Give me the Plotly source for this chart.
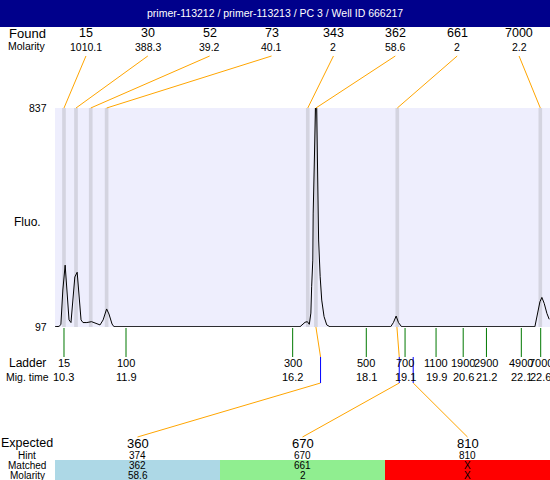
import plotly.graph_objects as go

# ---------------- data ----------------
mig_time = [10.07, 10.17, 10.22, 10.27, 10.33, 10.38, 10.43, 10.48, 10.53, 10.58, 10.64, 10.69,
            10.74, 10.79, 10.89, 11.01, 11.10, 11.23, 11.31, 11.40, 11.46, 11.54, 11.59,
            13.35, 16.39, 16.52, 16.58, 16.63, 16.67, 16.69, 16.72, 16.73, 16.76, 16.78, 16.80,
            16.82, 16.85, 16.87, 16.91, 16.95, 17.01, 17.08, 17.16,
            18.73, 18.80, 18.87, 18.93, 19.01,
            22.45, 22.52, 22.58, 22.63, 22.69, 22.76, 22.82]
fluo = [98, 99, 105, 222, 306, 222, 121, 112, 188, 266, 282, 205,
        121, 112, 112, 115, 111, 104, 121, 158, 141, 107, 98,
        98, 98, 113, 115, 106, 144, 233, 323, 482, 729, 834, 900,
        834, 584, 391, 267, 188, 132, 104, 98,
        98, 112, 134, 112, 98,
        98, 143, 182, 197, 177, 143, 123]

found_size = ["15", "30", "52", "73", "343", "362", "661", "7000"]
found_molarity = ["1010.1", "388.3", "39.2", "40.1", "2", "58.6", "2", "2.2"]
found_time = [10.30, 10.61, 10.99, 11.40, 16.59, 16.80, 18.90, 22.59]

ladder_size = ["15", "100", "300", "500", "700", "1100", "1900", "2900", "4900", "7000"]
ladder_time = [10.3, 11.9, 16.2, 18.1, 19.1, 19.9, 20.6, 21.2, 22.1, 22.6]

expected_size = ["360", "670", "810"]
hint_size = ["374", "670", "810"]
hint_time = [16.92, 18.95, 19.31]
matched_size = ["362", "661", "X"]
matched_molarity = ["58.6", "2", "X"]
matched_time = [16.80, 18.89, None]
match_colors = ["#ADD8E6", "#90EE90", "#FF0000"]

title_text = "primer-113212 / primer-113213 / PC 3 / Well ID 666217"
y_min, y_max = 97, 837
t_min, t_max = 10.068, 22.84

# ---------------- layout helpers ----------------
W, H = 550, 480
LEFT = 55
FONT = "Liberation Sans, Arial, sans-serif"
ORANGE = "#FFA500"


def py(p):
    return 1 - p / H


fig = go.Figure()

# electropherogram
fig.add_trace(go.Scatter(x=mig_time, y=fluo, mode="lines",
                         line=dict(color="black", width=1), xaxis="x", yaxis="y",
                         hoverinfo="skip", showlegend=False))

shapes = []
# plot background
shapes.append(dict(type="rect", xref="x domain", yref="y domain", x0=0, x1=1, y0=0, y1=1,
                   fillcolor="#EEEEFD", line=dict(width=0), layer="below"))
# found-peak bands
for t in found_time:
    shapes.append(dict(type="rect", xref="x", yref="y domain", x0=t - 0.047, x1=t + 0.047,
                       y0=0, y1=1, fillcolor="#D4D4E0", line=dict(width=0), layer="below"))
# title bar
shapes.append(dict(type="rect", xref="paper", yref="paper", x0=0, x1=1, y0=py(27), y1=1,
                   fillcolor="#00008B", line=dict(width=0), layer="below"))
# match cells
for i, c in enumerate(match_colors):
    shapes.append(dict(type="rect", xref="x domain", yref="paper", x0=i / 3, x1=(i + 1) / 3,
                       y0=0, y1=py(460), fillcolor=c, line=dict(width=0), layer="below"))

# connectors: found labels -> bands
n_found = len(found_time)
cx, cy = [], []
for i, t in enumerate(found_time):
    lab_t = t_min + (i + 0.5) / n_found * (t_max - t_min)
    cx += [lab_t, t, None]
    cy += [56, 108, None]
# connectors: matched peaks -> hints -> expected
n_exp = len(expected_size)
bx, by = [], []
for i, ht in enumerate(hint_time):
    lab_t = t_min + (i + 0.5) / n_exp * (t_max - t_min)
    if matched_time[i] is not None:
        cx += [matched_time[i], ht, None]
        cy += [327, 357, None]
    cx += [ht, lab_t, None]
    cy += [383, 437, None]
    bx += [ht, ht, None]
    by += [357, 383, None]
fig.add_trace(go.Scatter(x=cx, y=cy, mode="lines", line=dict(color=ORANGE, width=1),
                         xaxis="x2", yaxis="y2", hoverinfo="skip", showlegend=False))
fig.add_trace(go.Scatter(x=bx, y=by, mode="lines", line=dict(color="#0000FF", width=1),
                         xaxis="x2", yaxis="y2", hoverinfo="skip", showlegend=False))
# ladder ticks
gx, gy = [], []
for t in ladder_time:
    gx += [t, t, None]
    gy += [328, 357, None]
fig.add_trace(go.Scatter(x=gx, y=gy, mode="lines", line=dict(color="#007800", width=1),
                         xaxis="x2", yaxis="y2", hoverinfo="skip", showlegend=False))

ann = []


def text(x, y, s, size, xref="paper", yref="paper", color="black", xanchor="center"):
    ann.append(dict(x=x, y=y, xref=xref, yref=yref, text=s, showarrow=False,
                    font=dict(size=size, color=color, family=FONT),
                    xanchor=xanchor, yanchor="middle"))


text(0.5, py(13), title_text, 10.5, color="white")
LX = 27 / W
text(LX, py(34), "Found", 13)
text(LX, py(46), "Molarity", 10.5)
text(LX, py(222), "Fluo.", 12)
text(LX, py(363), "Ladder", 12)
text(LX, py(377), "Mig. time", 10.5)
text(LX, py(443), "Expected", 12.5)
text(LX, py(455), "Hint", 10)
text(LX, py(465.5), "Matched", 10)
text(LX, py(475), "Molarity", 10)

for i in range(n_found):
    xf = (i + 0.5) / n_found
    text(xf, py(33), found_size[i], 12.5, xref="x domain")
    text(xf, py(47), found_molarity[i], 10.5, xref="x domain")

text(49 / W, y_max, str(y_max), 10.5, yref="y", xanchor="right")
text(49 / W, y_min, str(y_min), 10.5, yref="y", xanchor="right")

for s, t in zip(ladder_size, ladder_time):
    text(t, py(363), s, 11, xref="x")
    text(t, py(377), f"{t:.1f}", 11, xref="x")

for i in range(n_exp):
    xf = (i + 0.5) / n_exp
    text(xf, py(443), expected_size[i], 13, xref="x domain")
    text(xf, py(455), hint_size[i], 10, xref="x domain")
    text(xf, py(465.5), matched_size[i], 10, xref="x domain")
    text(xf, py(475), matched_molarity[i], 10, xref="x domain")

fig.update_layout(
    width=W, height=H, margin=dict(l=0, r=0, t=0, b=0),
    paper_bgcolor="white", plot_bgcolor="rgba(0,0,0,0)",
    font=dict(family=FONT, color="black"),
    showlegend=False, hovermode=False,
    xaxis=dict(domain=[LEFT / W, 1], range=[t_min, t_max], visible=False, fixedrange=True),
    yaxis=dict(domain=[py(327), py(108)], range=[y_min, y_max], visible=False, fixedrange=True),
    xaxis2=dict(domain=[LEFT / W, 1], range=[t_min, t_max], visible=False, anchor="y2",
                fixedrange=True),
    yaxis2=dict(domain=[0, 1], range=[H, 0], visible=False, anchor="x2", fixedrange=True),
    shapes=shapes, annotations=ann,
)

fig.write_html("out.html", config={"displayModeBar": False},
               post_script="document.body.style.margin='0';document.body.style.overflow='hidden';")
